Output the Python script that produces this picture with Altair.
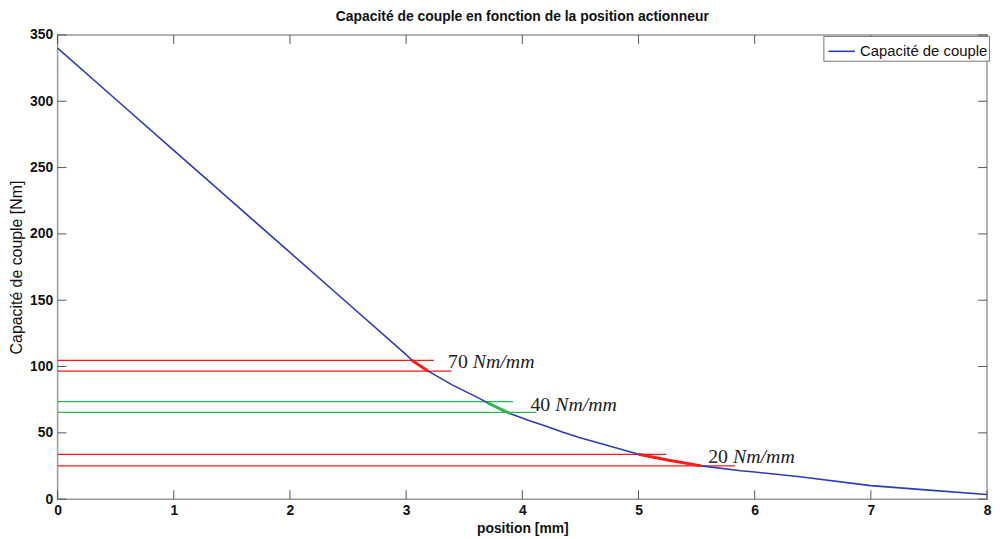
import altair as alt
import pandas as pd

# Main curve
pos = [0, 0.5, 1.0, 1.5, 2.0, 2.5, 3.0, 3.05, 3.12, 3.19, 3.4, 3.63, 3.70, 3.80, 3.90,
       4.05, 4.2, 4.35, 4.49, 4.75, 5.0, 5.25, 5.54, 5.88, 6.0, 6.39, 7.0, 7.5, 8.0]
cap = [340, 301.5, 263, 224.5, 186, 147.5, 109, 104.7, 100.5, 96.5, 86, 76, 72.7, 68.4, 64.4,
       59.5, 55.2, 50.4, 46.5, 40, 33.8, 29.5, 25.1, 21.4, 20.5, 16.9, 10.2, 6.8, 3.5]
series = ["Capacité de couple"] * len(pos)

# Highlighted ranges on the curve
red_ranges = [(3.05, 3.19), (5.0, 5.54)]
green_range = (3.70, 3.90)

# Horizontal reference lines
red_y = [104.7, 96.5, 33.8, 25.1]
red_end = [3.24, 3.39, 5.24, 5.83]
green_y = [73.6, 65.4]
green_end = [3.92, 4.12]

# Annotations
lab_num = ["70", "40", "20"]
lab_unit = ["Nm/mm", "Nm/mm", "Nm/mm"]
lab_x = [3.36, 4.07, 5.6]
lab_y = [99.0, 66.2, 26.9]

x_ticks = [0, 1, 2, 3, 4, 5, 6, 7, 8]
y_ticks = [0, 50, 100, 150, 200, 250, 300, 350]

W, H = 937, 468
BLUE = "#2b3cb8"
RED = "#ff1a1a"
GREEN = "#2fb552"

df = pd.DataFrame({"pos": pos, "cap": cap, "serie": series})
red_df = pd.DataFrame({"y": red_y, "x0": [0] * len(red_y), "x1": red_end})
green_df = pd.DataFrame({"y": green_y, "x0": [0] * len(green_y), "x1": green_end})
lab_df = pd.DataFrame({"num": lab_num, "unit": lab_unit, "x": lab_x, "y": lab_y})
xt_df = pd.DataFrame({"t": x_ticks})
yt_df = pd.DataFrame({"t": y_ticks})

xs = alt.Scale(domain=[0, 8], nice=False, zero=False)
ys = alt.Scale(domain=[0, 350], nice=False)

xaxis = alt.Axis(values=x_ticks, format="d", title="position [mm]", grid=False, ticks=False, domain=False,
                 labelFontWeight="bold", labelFontSize=14, labelPadding=4,
                 titleFontWeight="bold", titleFontSize=14, titlePadding=5, labelFlush=False)
yaxis = alt.Axis(values=y_ticks, format="d", title="Capacité de couple [Nm]", grid=False, ticks=False,
                 domain=False, labelFontWeight="bold", labelFontSize=14, labelPadding=5,
                 titleFontWeight="normal", titleFontSize=16, titlePadding=5, labelFlush=False)

base = alt.Chart(df)

main = base.mark_line(strokeWidth=1.6).encode(
    x=alt.X("pos:Q", scale=xs, axis=xaxis),
    y=alt.Y("cap:Q", scale=ys, axis=yaxis),
    color=alt.Color("serie:N", scale=alt.Scale(domain=["Capacité de couple"], range=[BLUE]),
                    legend=alt.Legend(title=None, orient="none", legendX=772, legendY=1,
                                      symbolType="stroke", symbolSize=720, symbolStrokeWidth=1.6,
                                      labelFontSize=15, labelFont="Liberation Sans", labelColor="#111111",
                                      strokeColor="#777777", fillColor="white", padding=1,
                                      cornerRadius=0, symbolOffset=3)),
)

segs = []
for lo, hi in red_ranges:
    segs.append(base.transform_filter(
        (alt.datum.pos >= lo - 1e-9) & (alt.datum.pos <= hi + 1e-9)
    ).mark_line(strokeWidth=3, color=RED).encode(x=alt.X("pos:Q", scale=xs), y=alt.Y("cap:Q", scale=ys)))
segs.append(base.transform_filter(
    (alt.datum.pos >= green_range[0] - 1e-9) & (alt.datum.pos <= green_range[1] + 1e-9)
).mark_line(strokeWidth=3, color=GREEN).encode(x=alt.X("pos:Q", scale=xs), y=alt.Y("cap:Q", scale=ys)))

red_rules = alt.Chart(red_df).mark_rule(color=RED, strokeWidth=1.3).encode(
    x=alt.X("x0:Q", scale=xs), x2="x1:Q", y=alt.Y("y:Q", scale=ys))
green_rules = alt.Chart(green_df).mark_rule(color=GREEN, strokeWidth=1.3).encode(
    x=alt.X("x0:Q", scale=xs), x2="x1:Q", y=alt.Y("y:Q", scale=ys))

num_text = alt.Chart(lab_df).mark_text(align="left", baseline="alphabetic", font="Liberation Serif",
                                       fontSize=20, color="#222222").encode(
    x=alt.X("x:Q", scale=xs), y=alt.Y("y:Q", scale=ys), text="num:N")
unit_text = alt.Chart(lab_df).mark_text(align="left", baseline="alphabetic", font="Liberation Serif",
                                        fontStyle="italic", fontSize=20, dx=25, color="#222222").encode(
    x=alt.X("x:Q", scale=xs), y=alt.Y("y:Q", scale=ys), text="unit:N")

TL = 9
TC = "#555555"
xt_bot = alt.Chart(xt_df).mark_rule(color=TC, strokeWidth=1).encode(
    x=alt.X("t:Q", scale=xs), y=alt.value(H), y2=alt.value(H - TL))
xt_top = alt.Chart(xt_df).mark_rule(color=TC, strokeWidth=1).encode(
    x=alt.X("t:Q", scale=xs), y=alt.value(0), y2=alt.value(TL))
yt_left = alt.Chart(yt_df).mark_rule(color=TC, strokeWidth=1).encode(
    y=alt.Y("t:Q", scale=ys), x=alt.value(0), x2=alt.value(TL))
yt_right = alt.Chart(yt_df).mark_rule(color=TC, strokeWidth=1).encode(
    y=alt.Y("t:Q", scale=ys), x=alt.value(W), x2=alt.value(W - TL))

chart = alt.layer(
    red_rules, green_rules, main, *segs, num_text, unit_text,
    xt_bot, xt_top, yt_left, yt_right
).properties(
    width=W, height=H,
    title=alt.Title("Capacité de couple en fonction de la position actionneur",
                    fontSize=14, fontWeight="bold", font="Liberation Sans", offset=4, color="#111111"),
    autosize=alt.AutoSizeParams(type="none"),
    padding={"left": 50, "top": 25, "right": 5, "bottom": 38},
).configure_view(
    stroke="#999999", strokeWidth=1.5
).configure_axis(
    labelFont="Liberation Sans", titleFont="Liberation Sans", labelColor="#111111", titleColor="#111111"
)

chart.save("out.html", embed_options={"renderer": "svg", "actions": False})
